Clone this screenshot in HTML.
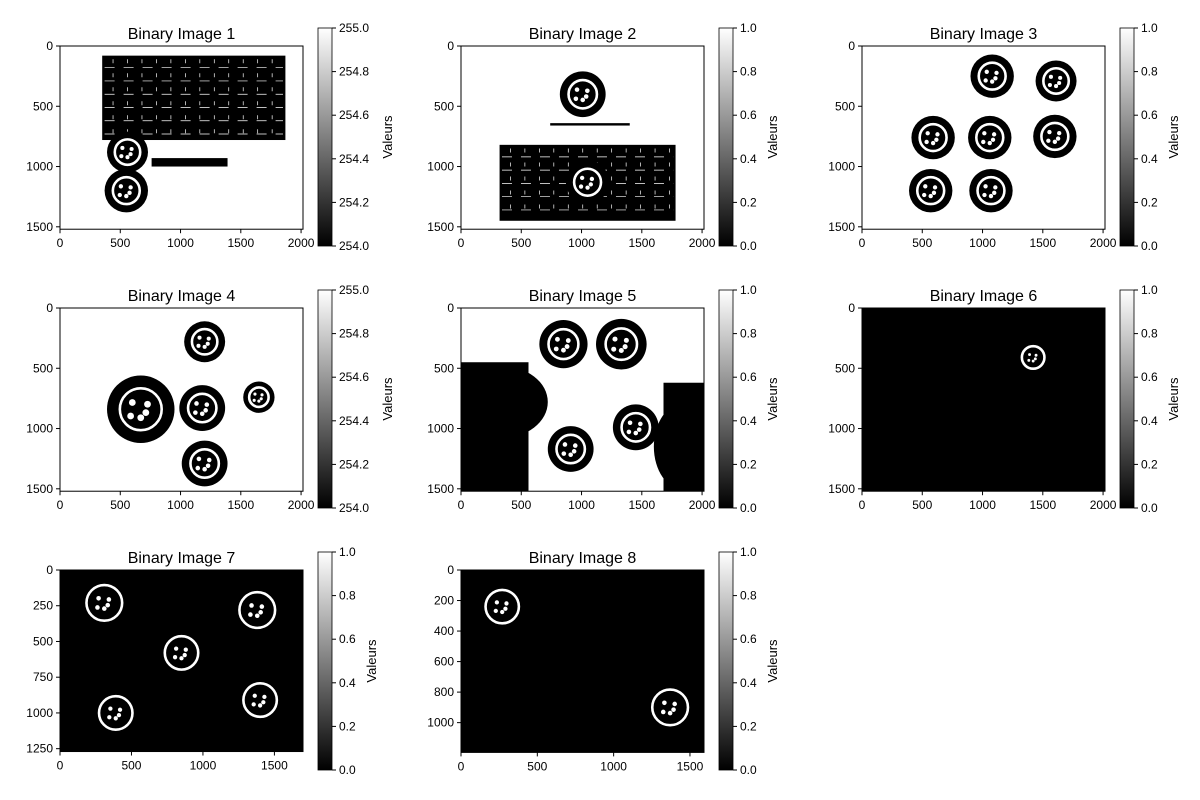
<!DOCTYPE html>
<html><head><meta charset="utf-8"><style>
body{margin:0;background:#fff}
svg{display:block;font-family:"Liberation Sans",sans-serif}
</style></head><body>
<svg id="fig" width="1200" height="800" viewBox="0 0 1200 800"></svg>
<script>
// Panel data (image-space coordinates)
const titles = ["Binary Image 1","Binary Image 2","Binary Image 3","Binary Image 4","Binary Image 5","Binary Image 6","Binary Image 7","Binary Image 8"];
const xMax = [2016,2016,2016,2016,2016,2016,1700,1592];
const yMax = [1520,1520,1520,1520,1520,1520,1270,1195];
const xTicks = [[0,500,1000,1500,2000],[0,500,1000,1500,2000],[0,500,1000,1500,2000],[0,500,1000,1500,2000],[0,500,1000,1500,2000],[0,500,1000,1500,2000],[0,500,1000,1500],[0,500,1000,1500]];
const yTicks = [[0,500,1000,1500],[0,500,1000,1500],[0,500,1000,1500],[0,500,1000,1500],[0,500,1000,1500],[0,500,1000,1500],[0,250,500,750,1000,1250],[0,200,400,600,800,1000]];
const cbTicks = [["254.0","254.2","254.4","254.6","254.8","255.0"],["0.0","0.2","0.4","0.6","0.8","1.0"],["0.0","0.2","0.4","0.6","0.8","1.0"],["254.0","254.2","254.4","254.6","254.8","255.0"],["0.0","0.2","0.4","0.6","0.8","1.0"],["0.0","0.2","0.4","0.6","0.8","1.0"],["0.0","0.2","0.4","0.6","0.8","1.0"],["0.0","0.2","0.4","0.6","0.8","1.0"]];
const darkBg = [false,false,false,false,false,true,true,true];
// blobs: [x, y, radius]
const blobs = [
 [[560,880,170],[550,1200,180]],
 [[1010,400,190],[1050,1130,180]],
 [[1080,250,180],[1610,290,170],[590,760,180],[1060,760,180],[1600,750,180],[570,1200,180],[1070,1200,180]],
 [[1200,280,170],[670,840,280],[1180,830,190],[1650,740,130],[1200,1290,190]],
 [[850,300,200],[1330,300,210],[910,1170,190],[1450,990,190]],
 [[1420,410,120]],
 [[310,230,160],[1380,280,160],[850,580,150],[390,1000,150],[1400,910,150]],
 [[270,240,140],[1370,900,150]]
];
// black rectangles: [x0,y0,x1,y1]
const rects = [
 [[350,80,1870,780],[760,930,1390,1000]],
 [[320,820,1780,1450],[740,640,1400,660]],
 [],[],
 [[0,450,560,1520],[1680,620,2016,1520]],
 [],[],[]
];
// black ellipses: [cx, cy, rx, ry]
const ellipses = [[],[],[],[],[[330,780,390,300],[1850,1150,250,360]],[],[],[]];
const ns="http://www.w3.org/2000/svg";
const fig=document.getElementById('fig');
function el(t,a,p){const e=document.createElementNS(ns,t);for(const k in a)e.setAttribute(k,a[k]);(p||fig).appendChild(e);return e;}
const colX=[60,461,862], rowY=[46,308,570], W=243;
const cbX=[318,719,1120], cbY=[28,290,552];
const defs=el('defs',{});
const lg=el('linearGradient',{id:'gr',x1:0,y1:1,x2:0,y2:0},defs);
el('stop',{offset:0,'stop-color':'#000'},lg);el('stop',{offset:1,'stop-color':'#fff'},lg);
for(let i=0;i<8;i++){
  const c=i%3,r=Math.floor(i/3);
  const x0=colX[c],y0=rowY[r],H=W*yMax[i]/xMax[i];
  const sx=v=>x0+v/xMax[i]*W, sy=v=>y0+v/yMax[i]*H, sr=v=>v/xMax[i]*W;
  const g=el('g',{});
  
  
  const cp=el('clipPath',{id:'cp'+i},defs);el('rect',{x:x0,y:y0,width:W,height:H},cp);
  const img=el('g',{'clip-path':'url(#cp'+i+')'},g);
  
  
  const bg=darkBg[i]?'#000':'#fff';
  el('rect',{x:x0,y:y0,width:W,height:H,fill:bg},img);
  rects[i].forEach(q=>{
    el('rect',{x:sx(q[0]),y:sy(q[1]),width:sx(q[2])-sx(q[0]),height:sy(q[3])-sy(q[1]),fill:'#000'},img);
    if(i<2&&q[3]-q[1]>300){
      for(let yy=q[1]+100;yy<q[3]-40;yy+=110) el('line',{x1:sx(q[0]+20),x2:sx(q[2]-20),y1:sy(yy),y2:sy(yy),stroke:'#fff','stroke-width':0.7,'stroke-dasharray':'10 9'},img);
      for(let xx=q[0]+90;xx<q[2];xx+=120) el('line',{x1:sx(xx),x2:sx(xx),y1:sy(q[1]+30),y2:sy(q[3]-30),stroke:'#fff','stroke-width':0.7,'stroke-dasharray':'4 10'},img);
    }
  });
  ellipses[i].forEach(e=>el('ellipse',{cx:sx(e[0]),cy:sy(e[1]),rx:sr(e[2]),ry:e[3]/yMax[i]*H,fill:'#000'},img));
  blobs[i].forEach(b=>{
    const cx=sx(b[0]),cy=sy(b[1]),R=sr(b[2]);
    if(darkBg[i]){
      el('circle',{cx,cy,r:R*0.78,fill:'none',stroke:'#fff','stroke-width':2.6},img);
    } else {
      el('circle',{cx,cy,r:R,fill:'#000'},img);
      el('circle',{cx,cy,r:R*0.62,fill:'none',stroke:'#fff','stroke-width':2.6},img);
    }
    [[-0.25,-0.2],[0.2,-0.15],[0,0.25],[-0.3,0.2],[0.15,0.1]].forEach(d=>el('circle',{cx:cx+d[0]*R,cy:cy+d[1]*R,r:Math.max(1.2,R*0.1),fill:'#fff'},img));
  });
  el('rect',{x:x0,y:y0,width:W,height:H,fill:'none',stroke:'#000','stroke-width':1},g);
  const t=el('text',{x:x0+W/2,y:y0-7,'text-anchor':'middle','font-size':16},g);t.textContent=titles[i];
  
  xTicks[i].forEach(v=>{const X=sx(v);el('line',{x1:X,x2:X,y1:y0+H,y2:y0+H+4,stroke:'#000'},g);
    const tx=el('text',{x:X,y:y0+H+18,'text-anchor':'middle','font-size':12},g);tx.textContent=v;});
  yTicks[i].forEach(v=>{const Y=sy(v);el('line',{x1:x0-4,x2:x0,y1:Y,y2:Y,stroke:'#000'},g);
    const ty=el('text',{x:x0-7,y:Y+4,'text-anchor':'end','font-size':12},g);ty.textContent=v;});
  const cx0=cbX[c],cy0=cbY[r],ch=218;
  const cb=el('g',{},g);
  
  el('rect',{x:cx0,y:cy0,width:14,height:ch,fill:'url(#gr)',stroke:'#000','stroke-width':0.8},cb);
  cbTicks[i].forEach((s,k)=>{const Y=cy0+ch-k*ch/5;el('line',{x1:cx0+14,x2:cx0+18,y1:Y,y2:Y,stroke:'#000'},cb);
    const tt=el('text',{x:cx0+21,y:Y+4,'font-size':12},cb);tt.textContent=s;});
  const lx=cx0+(cbTicks[i][0].length>3?74:58);
  const vl=el('text',{x:lx,y:cy0+ch/2,'text-anchor':'middle','font-size':13,transform:`rotate(-90 ${lx} ${cy0+ch/2})`},cb);vl.textContent='Valeurs';
  
}
</script>
</body></html>
